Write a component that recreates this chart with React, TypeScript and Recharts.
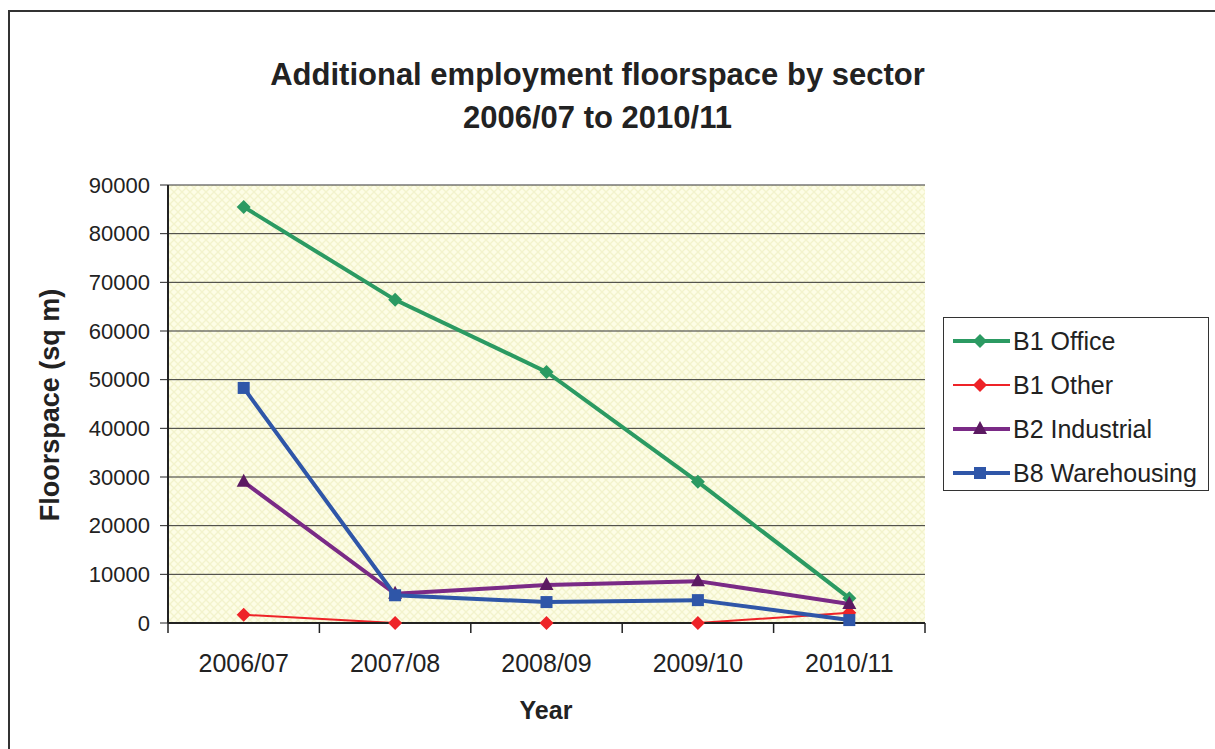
import { LineChart, Line, XAxis, YAxis, CartesianGrid } from "recharts";

const YEARS = ["2006/07", "2007/08", "2008/09", "2009/10", "2010/11"];
const B1_OFFICE = [85500, 66400, 51600, 29000, 5100];
const B1_OTHER = [1700, 0, 0, 0, 2100];
const B2_INDUSTRIAL = [29000, 6000, 7800, 8600, 3900];
const B8_WAREHOUSING = [48300, 5700, 4300, 4700, 600];
const Y_TICKS = [0, 10000, 20000, 30000, 40000, 50000, 60000, 70000, 80000, 90000];

const SERIES = [
  { key: "office", name: "B1 Office", color: "#2b9a62", marker: "#2b9a62", width: 4, shape: "diamond", values: B1_OFFICE },
  { key: "other", name: "B1 Other", color: "#ee2328", marker: "#ee2328", width: 2, shape: "diamond", values: B1_OTHER },
  { key: "industrial", name: "B2 Industrial", color: "#7a2a86", marker: "#5c1a62", width: 4, shape: "triangle", values: B2_INDUSTRIAL },
  { key: "warehousing", name: "B8 Warehousing", color: "#2f56a8", marker: "#2f56a8", width: 4, shape: "square", values: B8_WAREHOUSING },
];

const data = YEARS.map((year, i) => {
  const row: Record<string, string | number> = { year };
  SERIES.forEach((s) => (row[s.key] = s.values[i]));
  return row;
});

const FONT = '"Liberation Sans", Arial, sans-serif';
const PLOT_W = 757;
const BAND = PLOT_W / YEARS.length;

function Marker({ cx, cy, shape, fill }: { cx: number; cy: number; shape: string; fill: string }) {
  if (shape === "square") return <rect x={cx - 6} y={cy - 6} width={12} height={12} fill={fill} />;
  if (shape === "triangle")
    return <polygon points={`${cx},${cy - 8} ${cx + 7},${cy + 5} ${cx - 7},${cy + 5}`} fill={fill} />;
  return <polygon points={`${cx},${cy - 7} ${cx + 7},${cy} ${cx},${cy + 7} ${cx - 7},${cy}`} fill={fill} />;
}

function YearTick(props: any) {
  const { x, y, payload, index } = props;
  return (
    <g>
      <line x1={x - BAND / 2} x2={x - BAND / 2} y1={y - 8} y2={y + 2} stroke="#222" strokeWidth={1.5} />
      {index === YEARS.length - 1 && (
        <line x1={x + BAND / 2} x2={x + BAND / 2} y1={y - 8} y2={y + 2} stroke="#222" strokeWidth={1.5} />
      )}
      <text x={x} y={y + 41} textAnchor="middle" fontSize={25} fill="#222" fontFamily={FONT}>
        {payload.value}
      </text>
    </g>
  );
}

function LegendBox() {
  return (
    <div
      style={{
        position: "absolute",
        left: 933,
        top: 305,
        border: "1.5px solid #333",
        background: "#fff",
        width: 266,
        height: 174,
        boxSizing: "border-box",
        paddingTop: 1,
      }}
    >
      {SERIES.map((s) => (
        <div key={s.key} style={{ display: "flex", alignItems: "center", height: 44 }}>
          <svg width={68} height={20} style={{ flex: "none" }}>
            <line x1={9} x2={66} y1={10} y2={10} stroke={s.color} strokeWidth={s.width} />
            <Marker cx={36} cy={10} shape={s.shape} fill={s.marker} />
          </svg>
          <span style={{ fontSize: 25, color: "#222", fontFamily: FONT, marginLeft: 1 }}>{s.name}</span>
        </div>
      ))}
    </div>
  );
}

export default function App() {
  return (
    <div
      style={{
        position: "absolute",
        left: 8,
        top: 10,
        width: 1205,
        height: 737,
        borderTop: "2px solid #333",
        borderLeft: "2px solid #333",
        background: "#fff",
        fontFamily: FONT,
      }}
    >
      <div
        style={{
          position: "absolute",
          left: 0,
          top: 41,
          width: 1175,
          textAlign: "center",
          fontWeight: "bold",
          fontSize: 31,
          lineHeight: "43px",
          color: "#222",
        }}
      >
        Additional employment floorspace by sector
        <br />
        2006/07 to 2010/11
      </div>
      <div
        style={{
          position: "absolute",
          left: 40,
          top: 393,
          transform: "translate(-50%, -50%) rotate(-90deg)",
          whiteSpace: "nowrap",
          fontWeight: "bold",
          fontSize: 27,
          color: "#222",
        }}
      >
        Floorspace (sq m)
      </div>
      <div
        style={{
          position: "absolute",
          left: 536,
          top: 698,
          transform: "translate(-50%, -50%)",
          fontWeight: "bold",
          fontSize: 25,
          color: "#222",
        }}
      >
        Year
      </div>
      <LegendBox />
      <LineChart width={1205} height={737} data={data} margin={{ top: 173, right: 290, bottom: 66, left: 68 }}>
        <defs>
          <pattern id="bgHatch" width={8} height={8} patternUnits="userSpaceOnUse">
            <rect width={8} height={8} fill="#fdfde6" />
            <path d="M0 0 L8 8 M8 0 L0 8" stroke="#f3f3cc" strokeWidth={1.3} />
          </pattern>
        </defs>
        <CartesianGrid vertical={false} stroke="#333" fill="url(#bgHatch)" fillOpacity={1} />
        <XAxis
          dataKey="year"
          height={60}
          tickSize={8}
          tickMargin={0}
          tickLine={false}
          padding={{ left: BAND / 2, right: BAND / 2 }}
          axisLine={{ stroke: "#222", strokeWidth: 2 }}
          tick={<YearTick />}
          interval={0}
        />
        <YAxis
          width={90}
          domain={[0, 90000]}
          ticks={Y_TICKS}
          interval={0}
          tickSize={8}
          tickMargin={10}
          axisLine={{ stroke: "#222", strokeWidth: 2 }}
          tickLine={{ stroke: "#222" }}
          tick={{ fontSize: 22, fill: "#222", fontFamily: FONT }}
        />
        <YAxis
          yAxisId="frame"
          orientation="right"
          width={0}
          tick={false}
          tickLine={false}
          axisLine={{ stroke: "#999", strokeWidth: 2 }}
        />
        {SERIES.map((s) => (
          <Line
            key={s.key}
            type="linear"
            dataKey={s.key}
            name={s.name}
            stroke={s.color}
            strokeWidth={s.width}
            isAnimationActive={false}
            activeDot={false}
            dot={(p: any) => <Marker key={`${s.key}-${p.index}`} cx={p.cx} cy={p.cy} shape={s.shape} fill={s.marker} />}
          />
        ))}
      </LineChart>
    </div>
  );
}
